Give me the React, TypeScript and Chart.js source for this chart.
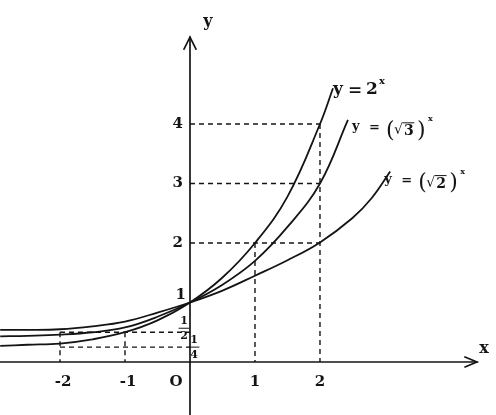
import React, { useEffect, useRef } from "react";
import { Chart, registerables } from "chart.js";

Chart.register(...registerables);

// Curves
const x2 = [-2.92, -2.5, -2, -1.5, -1, -0.5, 0, 0.5, 1, 1.5, 2, 2.2];
const y2 = [0.27, 0.29, 0.31, 0.38, 0.5, 0.7, 1, 1.42, 2, 2.78, 4, 4.6];
const xS3 = [-2.92, -2.5, -2, -1.5, -1, -0.5, 0, 0.5, 1, 1.5, 2, 2.43];
const yS3 = [0.43, 0.44, 0.46, 0.5, 0.58, 0.76, 1, 1.3, 1.7, 2.27, 3, 4.07];
const xS2 = [-2.92, -2.5, -2, -1.5, -1, -0.5, 0, 0.5, 1, 1.5, 2, 2.5, 2.8, 3.08];
const yS2 = [0.54, 0.54, 0.55, 0.6, 0.68, 0.83, 1, 1.2, 1.45, 1.71, 2.01, 2.42, 2.76, 3.2];

// Dashed guide lines
const hGuideY = [4, 3, 2, 0.5, 0.25];
const hGuideFrom = [0, 0, 0, -2, -2];
const hGuideTo = [2, 2, 2, 0, 0];
const vGuideX = [2, 1, -2, -1];
const vGuideTop = [4, 2, 0.5, 0.5];

// Ticks
const xTickValues = [-2, -1, 0, 1, 2];
const xTickLabels = ["-2", "-1", "O", "1", "2"];
const yTickValues = [4, 3, 2, 1];
const yTickLabels = ["4", "3", "2", "1"];

const X_MIN = -2.923;
const X_MAX = 4.708;
const Y_MIN = -0.891;
const Y_MAX = 6.084;
const AXIS_X_END = 4.415;
const AXIS_Y_END = 5.46;

const SERIF = '"DejaVu Serif", "Liberation Serif", serif';
const INK = "#141414";

const toPts = (xs: number[], ys: number[]) => xs.map((x, i) => ({ x, y: ys[i] }));

const axesPlugin = {
  id: "mathAxes",
  afterDraw(chart: any) {
    const ctx = chart.ctx as CanvasRenderingContext2D;
    const xs = chart.scales.x;
    const ys = chart.scales.y;
    const X = (v: number) => xs.getPixelForValue(v);
    const Y = (v: number) => ys.getPixelForValue(v);
    const ox = X(0);
    const oy = Y(0);
    ctx.save();
    ctx.strokeStyle = INK;
    ctx.fillStyle = INK;
    ctx.lineWidth = 1.7;
    ctx.lineCap = "round";
    // x axis
    const xe = X(AXIS_X_END);
    ctx.beginPath();
    ctx.moveTo(0, oy);
    ctx.lineTo(xe, oy);
    ctx.stroke();
    ctx.beginPath();
    ctx.moveTo(xe - 12, oy - 5);
    ctx.lineTo(xe, oy);
    ctx.lineTo(xe - 12, oy + 5);
    ctx.stroke();
    // y axis
    const ye = Y(AXIS_Y_END);
    ctx.beginPath();
    ctx.moveTo(ox, chart.height);
    ctx.lineTo(ox, ye);
    ctx.stroke();
    ctx.beginPath();
    ctx.moveTo(ox - 6, ye + 12);
    ctx.lineTo(ox, ye);
    ctx.lineTo(ox + 6, ye + 12);
    ctx.stroke();

    ctx.textBaseline = "middle";
    // axis names
    ctx.font = `bold 16px ${SERIF}`;
    ctx.textAlign = "center";
    ctx.fillText("y", ox + 18, ye - 15);
    ctx.fillText("x", xe + 7, oy - 13);

    // x tick labels
    ctx.font = `bold 15px ${SERIF}`;
    xTickValues.forEach((v, i) => {
      const lab = xTickLabels[i];
      let dx = 0;
      if (v < 0) dx = 3;
      if (v === 0) dx = -14;
      ctx.fillText(lab, X(v) + dx, oy + 20);
    });
    // y tick labels
    ctx.textAlign = "right";
    yTickValues.forEach((v, i) => {
      if (v === 1) {
        ctx.fillText(yTickLabels[i], ox - 4, Y(v) - 7);
      } else {
        ctx.fillText(yTickLabels[i], ox - 7, Y(v));
      }
    });

    // fractions 1/2 and 1/4
    const frac = (cx: number, cy: number, den: string) => {
      ctx.font = `bold 11px ${SERIF}`;
      ctx.textAlign = "center";
      ctx.fillText("1", cx, cy - 7);
      ctx.fillText(den, cx, cy + 8);
      ctx.lineWidth = 1;
      ctx.beginPath();
      ctx.moveTo(cx - 5, cy);
      ctx.lineTo(cx + 5, cy);
      ctx.stroke();
    };
    frac(ox - 6, Y(0.5) - 4, "2");
    frac(ox + 4, Y(0.25), "4");

    // curve labels
    const seg = (t: string, x: number, y: number, font: string) => {
      ctx.font = font;
      ctx.textAlign = "left";
      ctx.fillText(t, x, y);
    };
    // y = 2^x
    {
      const bx = X(x2[x2.length - 1]);
      const by = Y(y2[y2.length - 1]) + 2;
      const f = `bold 17px ${SERIF}`;
      seg("y", bx, by - 1, f);
      seg("=", bx + 15, by, f);
      seg("2", bx + 33, by - 1, f);
      seg("x", bx + 46, by - 9, `bold 10px ${SERIF}`);
    }
    const rootLabel = (bx: number, by: number, d: string) => {
      const f = `bold 13px ${SERIF}`;
      seg("y", bx, by, f);
      seg("=", bx + 17, by + 1, f);
      seg("(", bx + 34, by + 4, `22px ${SERIF}`);
      seg("\u221A", bx + 42, by + 4, `14px ${SERIF}`);
      seg(d, bx + 52, by + 5, `bold 14px ${SERIF}`);
      ctx.lineWidth = 1;
      ctx.beginPath();
      ctx.moveTo(bx + 51, by - 4);
      ctx.lineTo(bx + 62, by - 4);
      ctx.stroke();
      seg(")", bx + 65, by + 4, `22px ${SERIF}`);
      seg("x", bx + 76, by - 8, `bold 8px ${SERIF}`);
    };
    rootLabel(X(xS3[xS3.length - 1]) + 4, Y(yS3[yS3.length - 1]) + 7, "3");
    rootLabel(X(xS2[xS2.length - 1]) - 6, Y(yS2[yS2.length - 1]) + 8, "2");

    ctx.restore();
  },
};

export default function App() {
  const ref = useRef<HTMLCanvasElement | null>(null);
  useEffect(() => {
    document.body.style.margin = "0";
    document.body.style.overflow = "hidden";
    document.body.style.background = "#ffffff";
    const canvas = ref.current;
    if (!canvas) return;
    const curveStyle = {
      showLine: true,
      pointRadius: 0,
      borderColor: INK,
      borderWidth: 1.8,
      fill: false,
      tension: 0.4,
    };
    const guides: any[] = [];
    hGuideY.forEach((y, i) => {
      guides.push({
        data: [
          { x: hGuideFrom[i], y },
          { x: hGuideTo[i], y },
        ],
        showLine: true,
        pointRadius: 0,
        borderColor: INK,
        borderWidth: 1.4,
        borderDash: [5, 4],
      });
    });
    vGuideX.forEach((x, i) => {
      guides.push({
        data: [
          { x, y: vGuideTop[i] },
          { x, y: 0 },
        ],
        showLine: true,
        pointRadius: 0,
        borderColor: INK,
        borderWidth: 1.4,
        borderDash: [5, 4],
      });
    });
    const chart = new Chart(canvas, {
      type: "scatter",
      data: {
        datasets: [
          { ...curveStyle, data: toPts(x2, y2) },
          { ...curveStyle, data: toPts(xS3, yS3) },
          { ...curveStyle, data: toPts(xS2, yS2) },
          ...guides,
        ],
      },
      options: {
        animation: false,
        responsive: false,
        maintainAspectRatio: false,
        layout: { padding: 0 },
        plugins: { legend: { display: false }, tooltip: { enabled: false } },
        scales: {
          x: { type: "linear", min: X_MIN, max: X_MAX, display: false },
          y: { type: "linear", min: Y_MIN, max: Y_MAX, display: false },
        },
      },
      plugins: [axesPlugin],
    });
    return () => chart.destroy();
  }, []);
  return (
    <canvas
      ref={ref}
      width={496}
      height={415}
      style={{ display: "block", width: 496, height: 415 }}
    />
  );
}
